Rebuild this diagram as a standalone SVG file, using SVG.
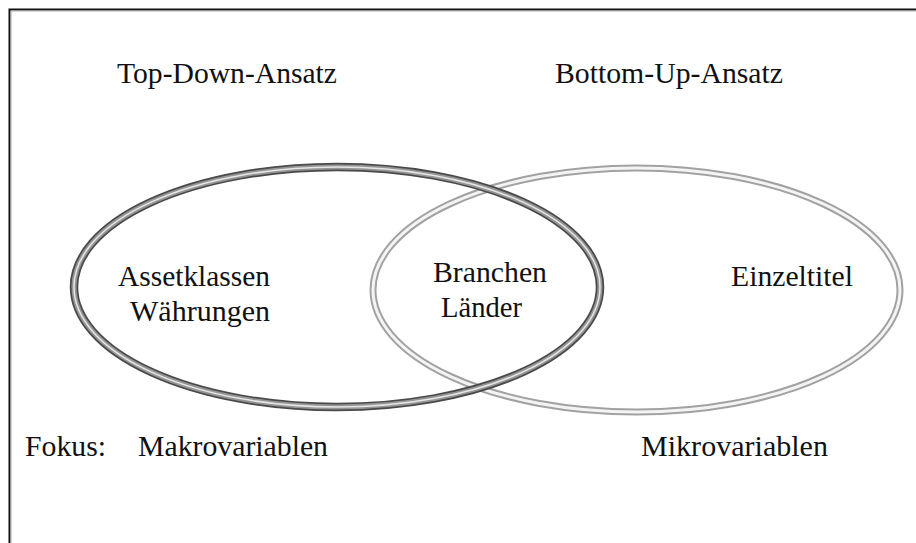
<svg xmlns="http://www.w3.org/2000/svg" width="916" height="543" viewBox="0 0 916 543">
  <style>
    .t { font-family: "Liberation Serif", "Times New Roman", serif; font-size: 30px; fill: #111; }
  </style>
  <rect x="0" y="0" width="916" height="543" fill="#fff"/>
  <g id="frame">
    <path d="M9.5 543 V9.5 H916" fill="none" stroke="#111" stroke-width="2"/>
    <path d="M11 543 V11 H916" fill="none" stroke="#aaa" stroke-width="1"/>
  </g>
  <g id="bottom-up">
    <ellipse cx="636.5" cy="290" rx="263.5" ry="122" fill="none" stroke="#a2a2a2" stroke-width="7"/>
    <ellipse cx="636.5" cy="290" rx="263.5" ry="122" fill="none" stroke="#f4f4f4" stroke-width="3"/>
  </g>
  <g id="top-down">
    <ellipse cx="337" cy="287" rx="263" ry="120" fill="none" stroke="#4a4a4a" stroke-width="8.5"/>
    <ellipse cx="337" cy="287" rx="263" ry="120" fill="none" stroke="#959595" stroke-width="5"/>
    <ellipse cx="337" cy="287" rx="263" ry="120" fill="none" stroke="#e6e6e6" stroke-width="1.5"/>
  </g>
  <g id="labels">
    <text class="t" x="117" y="83" textLength="220" lengthAdjust="spacingAndGlyphs">Top-Down-Ansatz</text>
    <text class="t" x="555" y="83" textLength="228" lengthAdjust="spacingAndGlyphs">Bottom-Up-Ansatz</text>
    <text class="t" x="118" y="286" textLength="152" lengthAdjust="spacingAndGlyphs">Assetklassen</text>
    <text class="t" x="130" y="321" textLength="140" lengthAdjust="spacingAndGlyphs">Währungen</text>
    <text class="t" x="433" y="282" textLength="114" lengthAdjust="spacingAndGlyphs">Branchen</text>
    <text class="t" x="441" y="317" textLength="81" lengthAdjust="spacingAndGlyphs">Länder</text>
    <text class="t" x="731" y="286" textLength="122" lengthAdjust="spacingAndGlyphs">Einzeltitel</text>
    <text class="t" x="25" y="456" textLength="81" lengthAdjust="spacingAndGlyphs">Fokus:</text>
    <text class="t" x="138" y="456" textLength="190" lengthAdjust="spacingAndGlyphs">Makrovariablen</text>
    <text class="t" x="641" y="456" textLength="187" lengthAdjust="spacingAndGlyphs">Mikrovariablen</text>
  </g>
</svg>
